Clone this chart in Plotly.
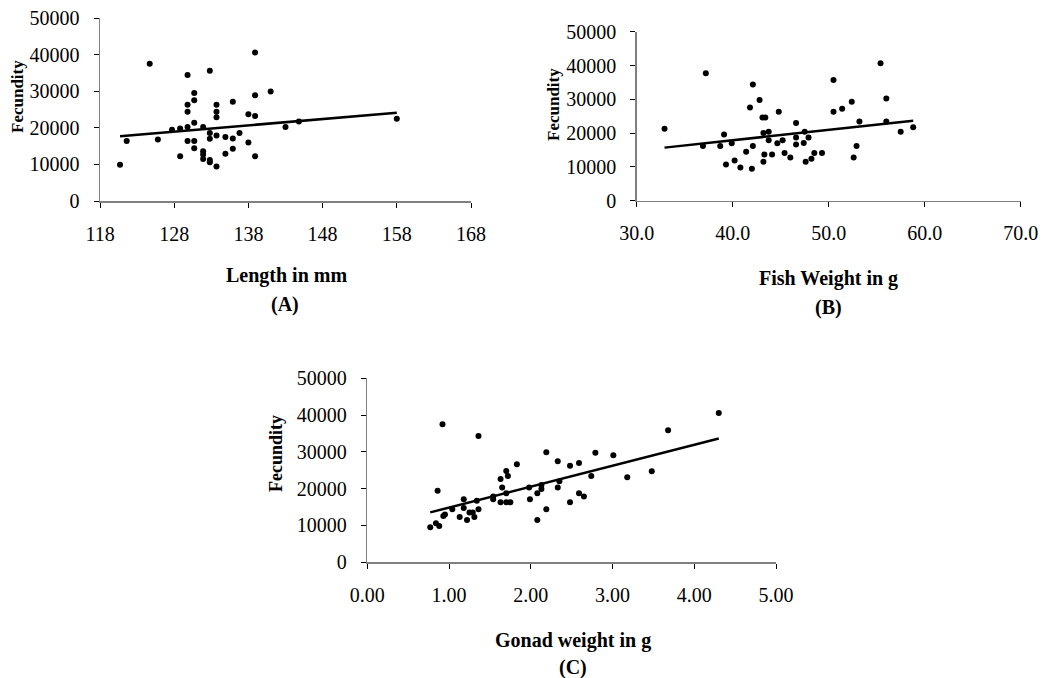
import plotly.graph_objects as go

# ---------------- data ----------------
# Panel A: Length (mm) vs Fecundity
len_mm = [120.7, 121.6, 124.7, 125.8, 127.7, 128.8, 128.8, 129.8, 129.8, 129.8,
          129.8, 129.8, 130.7, 130.7, 130.7, 130.7, 130.7, 131.9, 131.9, 131.9,
          131.9, 132.8, 132.8, 132.8, 132.8, 132.8, 133.7, 133.7, 133.7, 133.7,
          133.7, 134.9, 134.9, 135.9, 135.9, 135.9, 136.8, 138.0, 138.0, 138.9,
          138.9, 138.9, 138.9, 141.0, 143.0, 144.8, 158.0]
fec_a = [9900, 16400, 37500, 16800, 19450, 12200, 19800, 34400, 26300, 24400,
         20200, 16400, 29500, 27500, 21400, 16400, 14400, 20200, 13600, 12700,
         11500, 35600, 18600, 17000, 11200, 10600, 26300, 24400, 22900, 17900,
         9400, 17500, 12900, 27100, 17100, 14300, 18600, 23700, 15950, 40550,
         28900, 23200, 12200, 29900, 20200, 21700, 22500]
trend_a_x = [120.7, 158.0]
trend_a_y = [17700, 24100]

# Panel B: Fish weight (g) vs Fecundity
wt_g = [32.9, 36.9, 37.2, 38.7, 39.1, 39.3, 39.9, 40.2, 40.8, 41.4,
        41.8, 42.0, 42.1, 42.1, 42.8, 43.1, 43.4, 43.2, 43.2, 43.3,
        43.75, 43.75, 44.1, 44.8, 44.65, 45.2, 45.4, 46.0, 46.6, 46.6,
        46.6, 47.4, 47.5, 47.6, 47.9, 48.2, 48.5, 49.3, 50.5, 50.5,
        51.4, 52.4, 52.6, 52.9, 53.2, 55.4, 56.0, 56.0, 57.5, 58.8]
fec_b = [21300, 16200, 37700, 16200, 19600, 10700, 17000, 11900, 9850, 14500,
         27600, 9450, 16200, 34400, 29800, 24600, 24600, 20000, 11500, 13700,
         20400, 17900, 13700, 26300, 17000, 17900, 14100, 12800, 23000, 18700,
         16600, 17050, 20400, 11500, 18700, 12400, 14100, 14100, 35700, 26300,
         27200, 29300, 12800, 16200, 23400, 40700, 30200, 23400, 20400, 21700]
trend_b_x = [32.9, 58.8]
trend_b_y = [15700, 23650]

# Panel C: Gonad weight (g) vs Fecundity
gonad_g = [0.77, 0.84, 0.88, 0.86, 0.92, 0.93, 0.95, 1.04, 1.13, 1.18,
           1.18, 1.22, 1.25, 1.29, 1.31, 1.34, 1.36, 1.36, 1.54, 1.54,
           1.63, 1.65, 1.70, 1.72, 1.70, 1.63, 1.70, 1.75, 1.83, 1.98,
           1.99, 2.08, 2.13, 2.13, 2.08, 2.19, 2.19, 2.33, 2.33, 2.35,
           2.48, 2.48, 2.59, 2.59, 2.65, 2.74, 2.79, 3.01, 3.18, 3.48,
           3.68, 4.30]
fec_c = [9450, 10550, 9800, 19400, 37500, 12500, 12900, 14350, 12250, 17050,
         14700, 11450, 13450, 13450, 12250, 16700, 34300, 14350, 17800, 17050,
         22600, 20250, 24750, 23400, 18700, 16250, 16250, 16250, 26600, 20250,
         17050, 18700, 19850, 20950, 11450, 14350, 29850, 27400, 20250, 21950,
         26200, 16250, 26950, 18700, 17800, 23400, 29750, 29050, 23050, 24700,
         35850, 40550]
trend_c_x = [0.77, 4.30]
trend_c_y = [13500, 33600]

x_titles = ["Length in mm", "Fish Weight in g", "Gonad weight in g"]
panel_labels = ["(A)", "(B)", "(C)"]
y_title = "Fecundity"

# ---------------- figure ----------------
W, H = 1044, 678
FONT = "Liberation Serif, Times New Roman, serif"

fig = go.Figure()

panels = [
    dict(x=len_mm, y=fec_a, tx=trend_a_x, ty=trend_a_y, xa="x", ya="y"),
    dict(x=wt_g, y=fec_b, tx=trend_b_x, ty=trend_b_y, xa="x2", ya="y2"),
    dict(x=gonad_g, y=fec_c, tx=trend_c_x, ty=trend_c_y, xa="x3", ya="y3"),
]
for p in panels:
    fig.add_trace(go.Scatter(x=p["x"], y=p["y"], mode="markers", xaxis=p["xa"], yaxis=p["ya"],
                             marker=dict(color="black", size=6), showlegend=False, cliponaxis=False))
    fig.add_trace(go.Scatter(x=p["tx"], y=p["ty"], mode="lines", xaxis=p["xa"], yaxis=p["ya"],
                             line=dict(color="black", width=2.5), showlegend=False))

def px_dom_x(a, b):
    return [a / W, b / W]

def px_dom_y(top, bottom):
    return [1 - bottom / H, 1 - top / H]

axis_common = dict(showline=True, linecolor="#808080", linewidth=1.5, ticks="outside",
                   ticklen=5, tickcolor="black", tickwidth=1, showgrid=False, zeroline=False,
                   tickfont=dict(family=FONT, size=20, color="black"), fixedrange=True,
                   automargin=False)

yaxis_common = dict(axis_common, range=[0, 50000], tickvals=[0, 10000, 20000, 30000, 40000, 50000],
                    tickformat="d", ticklabelstandoff=10)

fig.update_layout(
    width=W, height=H, margin=dict(l=0, r=0, t=0, b=0, autoexpand=False),
    paper_bgcolor="white", plot_bgcolor="white",
    xaxis=dict(axis_common, domain=px_dom_x(100, 471), range=[118, 168],
               tickvals=[118, 128, 138, 148, 158, 168], anchor="y", ticklabelstandoff=9),
    yaxis=dict(yaxis_common, domain=px_dom_y(18, 201), anchor="x"),
    xaxis2=dict(axis_common, domain=px_dom_x(636.7, 1020.7), range=[30, 70],
                tickvals=[30, 40, 50, 60, 70], tickformat=".1f", anchor="y2", ticklabelstandoff=9),
    yaxis2=dict(yaxis_common, domain=px_dom_y(31.7, 200.7), anchor="x2"),
    xaxis3=dict(axis_common, domain=px_dom_x(367.3, 776), range=[0, 5],
                tickvals=[0, 1, 2, 3, 4, 5], tickformat=".2f", anchor="y3", ticklabelstandoff=9),
    yaxis3=dict(yaxis_common, domain=px_dom_y(378.3, 562), anchor="x3"),
)

def ann(text, xpx, ypx, size, angle=0):
    fig.add_annotation(text=text, x=xpx / W, y=1 - ypx / H, xref="paper", yref="paper",
                       showarrow=False, textangle=angle, xanchor="center", yanchor="middle",
                       font=dict(family=FONT, size=size, color="black"))

# x titles and panel labels
ann("<b>" + x_titles[0] + "</b>", 286, 275, 20)
ann("<b>" + panel_labels[0] + "</b>", 285, 304, 20)
ann("<b>" + x_titles[1] + "</b>", 828, 278, 20)
ann("<b>" + panel_labels[1] + "</b>", 828, 307, 20)
ann("<b>" + x_titles[2] + "</b>", 573, 640, 20)
ann("<b>" + panel_labels[2] + "</b>", 573, 667, 20)
# y titles
ann("<b>" + y_title + "</b>", 18, 97, 17, -90)
ann("<b>" + y_title + "</b>", 553, 105, 17, -90)
ann("<b>" + y_title + "</b>", 276, 454, 18, -90)

fig.write_html("out.html", config={"displayModeBar": False, "staticPlot": True},
               post_script="document.body.style.margin='0px';document.body.style.overflow='hidden';")
